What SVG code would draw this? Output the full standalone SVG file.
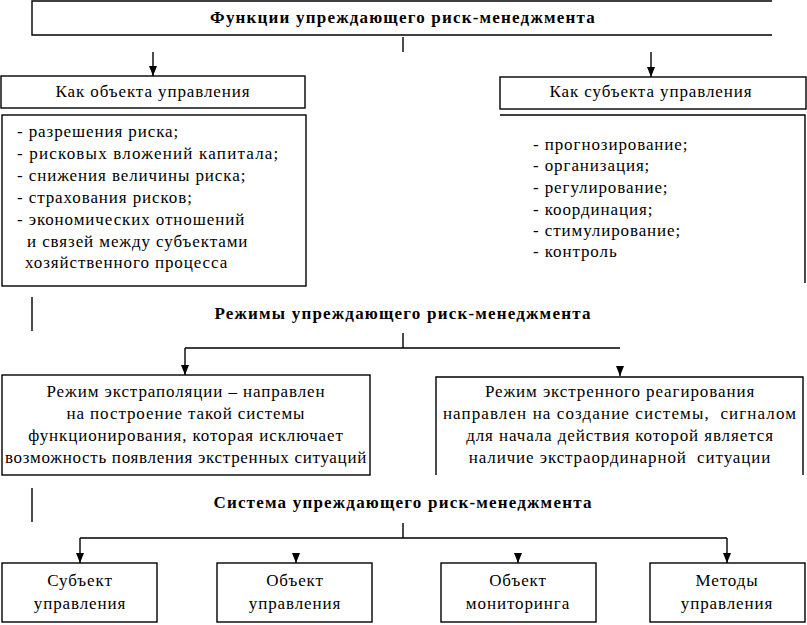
<svg xmlns="http://www.w3.org/2000/svg" width="807" height="625" viewBox="0 0 807 625">
<defs>
<style>
text{font-family:"Liberation Serif","Times New Roman",serif;font-size:17px;letter-spacing:0.9px;fill:#000}
.b{font-weight:bold;letter-spacing:1.2px}
.c{text-anchor:middle}
.box{fill:#fff;stroke:#000;stroke-width:1.4}
.ln{fill:none;stroke:#000;stroke-width:1.4}
</style>
<marker id="ah" viewBox="0 0 10 8" refX="10" refY="4" markerWidth="10" markerHeight="8" markerUnits="userSpaceOnUse" orient="auto">
<path d="M0,0 L10,4 L0,8 Z" fill="#000"/>
</marker>
</defs>
<rect width="807" height="625" fill="#fff"/>

<g id="connectors">
<path class="ln" d="M403,37 V52"/>
<path class="ln" d="M153,52 V76" marker-end="url(#ah)"/>
<path class="ln" d="M651,52 V77" marker-end="url(#ah)"/>
<path class="ln" d="M32,297 V331"/>
<path class="ln" d="M403,333 V348 M185,348 H620"/>
<path class="ln" d="M185,348 V375" marker-end="url(#ah)"/>
<path class="ln" d="M620,367 V376" marker-end="url(#ah)"/>
<path class="ln" d="M32,488 V522"/>
<path class="ln" d="M403,523 V538 M80,538 H727"/>
<path class="ln" d="M80,538 V563" marker-end="url(#ah)"/>
<path class="ln" d="M727,538 V563" marker-end="url(#ah)"/>
<path class="ln" d="M296,554 V563" marker-end="url(#ah)"/>
<path class="ln" d="M518,554 V563" marker-end="url(#ah)"/>
</g>

<g id="title">
<path class="ln" d="M772,1 H32 V35 H772"/>
<text class="b c" x="403" y="23">Функции упреждающего риск-менеджмента</text>
</g>

<g id="obj-head">
<rect class="box" x="1" y="76" width="304" height="32"/>
<text class="c" x="153" y="97">Как объекта управления</text>
</g>

<g id="subj-head">
<rect class="box" x="500" y="77" width="306" height="32"/>
<text class="c" x="651" y="97">Как субъекта управления</text>
</g>

<g id="obj-list">
<rect class="box" x="2" y="115" width="304" height="171"/>
<text x="17" y="137">- разрешения риска;</text>
<text x="17" y="159" style="letter-spacing:1.2px">- рисковых вложений капитала;</text>
<text x="17" y="181">- снижения величины риска;</text>
<text x="17" y="203">- страхования рисков;</text>
<text x="17" y="225">- экономических отношений</text>
<text x="27" y="247">и связей между субъектами</text>
<text x="25" y="268">хозяйственного процесса</text>
</g>

<g id="subj-list">
<path class="ln" d="M500,115 H805 V283"/>
<text x="533" y="150">- прогнозирование;</text>
<text x="533" y="171">- организация;</text>
<text x="533" y="193">- регулирование;</text>
<text x="533" y="215">- координация;</text>
<text x="533" y="236">- стимулирование;</text>
<text x="533" y="257">- контроль</text>
</g>

<g id="modes-title">
<text class="b c" x="403" y="319">Режимы упреждающего риск-менеджмента</text>
</g>

<g id="mode-extrapolation">
<rect class="box" x="2" y="375" width="368" height="100"/>
<text class="c" x="186" y="397">Режим экстраполяции – направлен</text>
<text class="c" x="186" y="419">на построение такой системы</text>
<text class="c" x="186" y="441">функционирования, которая исключает</text>
<text class="c" x="186" y="463" style="letter-spacing:0.7px">возможность появления экстренных ситуаций</text>
</g>

<g id="mode-emergency">
<path class="ln" d="M436,475 V377 H803 V475"/>
<text class="c" x="620" y="397">Режим экстренного реагирования</text>
<text class="c" x="620" y="419" xml:space="preserve" style="letter-spacing:1.1px">направлен на создание системы,  сигналом</text>
<text class="c" x="620" y="441">для начала действия которой является</text>
<text class="c" x="620" y="463" xml:space="preserve">наличие экстраординарной  ситуации</text>
</g>

<g id="system-title">
<text class="b c" x="403" y="508">Система упреждающего риск-менеджмента</text>
</g>

<g id="subject">
<rect class="box" x="2" y="563" width="155" height="59"/>
<text class="c" x="80" y="586">Субъект</text>
<text class="c" x="80" y="609">управления</text>
</g>

<g id="object">
<rect class="box" x="217" y="563" width="155" height="59"/>
<text class="c" x="295" y="586">Объект</text>
<text class="c" x="295" y="609">управления</text>
</g>

<g id="monitoring">
<rect class="box" x="441" y="563" width="155" height="59"/>
<text class="c" x="518" y="586">Объект</text>
<text class="c" x="518" y="609">мониторинга</text>
</g>

<g id="methods">
<rect class="box" x="650" y="563" width="155" height="59"/>
<text class="c" x="727" y="586">Методы</text>
<text class="c" x="727" y="609">управления</text>
</g>
</svg>
